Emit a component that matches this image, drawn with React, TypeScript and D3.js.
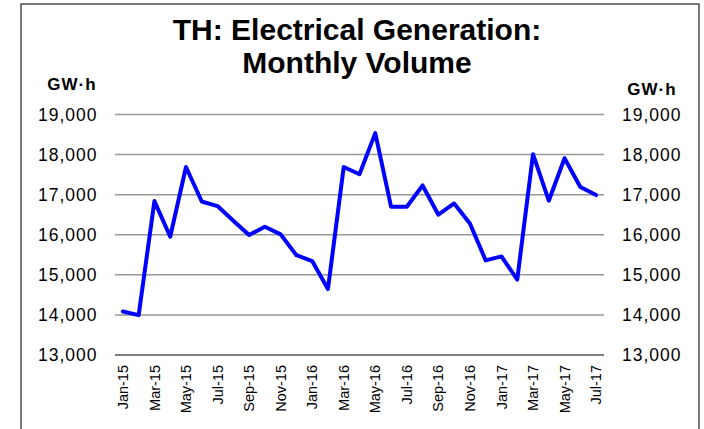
import React from "react";
import * as d3 from "d3";

// monthly generation, GW·h, Jan-15 .. Jul-17
const months = [
  "Jan-15", "Feb-15", "Mar-15", "Apr-15", "May-15", "Jun-15", "Jul-15", "Aug-15",
  "Sep-15", "Oct-15", "Nov-15", "Dec-15", "Jan-16", "Feb-16", "Mar-16", "Apr-16",
  "May-16", "Jun-16", "Jul-16", "Aug-16", "Sep-16", "Oct-16", "Nov-16", "Dec-16",
  "Jan-17", "Feb-17", "Mar-17", "Apr-17", "May-17", "Jun-17", "Jul-17",
];
const volume = [
  14085, 13995, 16840, 15950, 17690, 16830, 16715, 16350,
  15995, 16200, 16010, 15490, 15345, 14645, 17690, 17510,
  18535, 16700, 16700, 17230, 16500, 16780, 16280, 15360,
  15460, 14880, 18010, 16850, 17910, 17190, 16990,
];
const yTicks = [13000, 14000, 15000, 16000, 17000, 18000, 19000];
const xLabels = months.filter((_, i) => i % 2 === 0);

const W = 704, H = 429;
const left = 115, right = 604, top = 114.5, bottom = 355;
const font = "'Liberation Sans', Arial, sans-serif";

export default function App() {
  const x = d3.scaleBand().domain(months).range([left, right]);
  const y = d3.scaleLinear().domain([13000, 19000]).range([bottom, top]);
  const fmt = d3.format(",");
  const line = d3.line<number>()
    .x((_, i) => x(months[i])! + x.bandwidth() / 2)
    .y(d => y(d));

  return (
    <svg width={W} height={H} style={{ position: "absolute", left: 0, top: 0 }} fontFamily={font}>
      <rect x={0} y={0} width={W} height={H} fill="#fff" />
      <rect x={21} y={4} width={678} height={440} fill="none" stroke="#222" strokeWidth={1.2} />

      <text x={357} y={40} textAnchor="middle" fontSize={30} fontWeight="bold">TH: Electrical Generation:</text>
      <text x={357} y={72.5} textAnchor="middle" fontSize={30} fontWeight="bold">Monthly Volume</text>

      <text x={72} y={89.5} textAnchor="middle" fontSize={17} fontWeight="bold" letterSpacing={1}>GW·h</text>
      <text x={652} y={95} textAnchor="middle" fontSize={17} fontWeight="bold" letterSpacing={1}>GW·h</text>

      {yTicks.map(t => (
        <g key={t}>
          {t > 13000 && (
            <line x1={left} x2={right} y1={y(t)} y2={y(t)} stroke="#999" strokeWidth={1.5} />
          )}
          <text x={97.5} y={y(t)} dy="0.35em" textAnchor="end" fontSize={17.5} letterSpacing={1}>{fmt(t)}</text>
          <text x={622} y={y(t)} dy="0.35em" textAnchor="start" fontSize={17.5} letterSpacing={1}>{fmt(t)}</text>
        </g>
      ))}

      <line x1={left} x2={right} y1={bottom} y2={bottom} stroke="#000" strokeWidth={1.2} />

      {xLabels.map(m => (
        <text
          key={m}
          transform={`translate(${x(m)! + x.bandwidth() / 2},365) rotate(-90)`}
          dy="0.35em"
          textAnchor="end"
          fontSize={14.5}
        >{m}</text>
      ))}

      <path d={line(volume) ?? ""} fill="none" stroke="#0000ff" strokeWidth={4} strokeLinejoin="round" strokeLinecap="round" />
    </svg>
  );
}
